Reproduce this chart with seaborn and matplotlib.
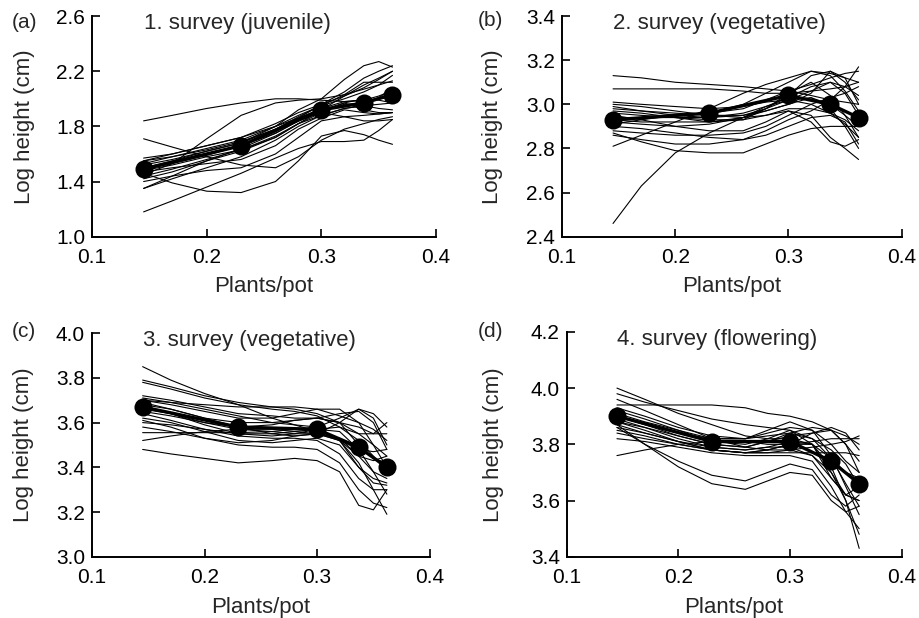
import numpy as np
import pandas as pd
import matplotlib
matplotlib.use('Agg')
import matplotlib.pyplot as plt
import seaborn as sns

# plant density at which heights were read (thin lines)
density = [0.145, 0.17, 0.20, 0.23, 0.26, 0.28, 0.30, 0.32, 0.337, 0.35, 0.362]
# densities of the five treatment means (thick line with dots)
mean_density = [0.145, 0.23, 0.30, 0.337, 0.362]

titles = ['1. survey (juvenile)', '2. survey (vegetative)',
          '3. survey (vegetative)', '4. survey (flowering)']
panel_tags = ['(a)', '(b)', '(c)', '(d)']

mean_a = [1.49, 1.66, 1.92, 1.97, 2.03]
mean_b = [2.93, 2.96, 3.04, 3.00, 2.94]
mean_c = [3.67, 3.58, 3.57, 3.49, 3.40]
mean_d = [3.90, 3.81, 3.81, 3.74, 3.66]

lines_a = [
    [1.84, 1.88, 1.93, 1.97, 2.00, 2.00, 1.99, 1.98, 1.99, 2.00, 2.02],
    [1.71, 1.65, 1.58, 1.52, 1.50, 1.58, 1.70, 1.78, 1.82, 1.85, 1.87],
    [1.18, 1.26, 1.36, 1.46, 1.57, 1.64, 1.69, 1.69, 1.70, 1.77, 1.85],
    [1.46, 1.39, 1.33, 1.32, 1.40, 1.55, 1.73, 1.77, 1.74, 1.70, 1.67],
    [1.45, 1.53, 1.71, 1.88, 1.97, 1.99, 2.00, 2.03, 2.07, 2.10, 2.13],
    [1.50, 1.55, 1.62, 1.68, 1.80, 1.92, 2.00, 2.14, 2.24, 2.27, 2.23],
    [1.35, 1.42, 1.50, 1.58, 1.70, 1.80, 1.88, 1.93, 1.95, 1.96, 1.97],
    [1.35, 1.44, 1.55, 1.64, 1.75, 1.84, 1.90, 1.87, 1.84, 1.84, 1.85],
    [1.48, 1.52, 1.58, 1.63, 1.72, 1.82, 1.92, 2.02, 2.10, 2.15, 2.20],
    [1.52, 1.56, 1.62, 1.68, 1.78, 1.87, 1.95, 2.00, 2.05, 2.10, 2.17],
    [1.55, 1.58, 1.64, 1.70, 1.80, 1.88, 1.95, 2.03, 2.12, 2.12, 2.12],
    [1.42, 1.47, 1.55, 1.62, 1.72, 1.82, 1.90, 1.97, 2.00, 1.99, 1.97],
    [1.57, 1.60, 1.66, 1.72, 1.82, 1.90, 1.96, 2.02, 2.08, 2.14, 2.20],
    [1.47, 1.50, 1.53, 1.56, 1.66, 1.78, 1.86, 1.92, 1.90, 1.89, 1.90],
    [1.40, 1.44, 1.48, 1.50, 1.60, 1.72, 1.84, 1.87, 1.88, 1.89, 1.90],
    [1.53, 1.58, 1.63, 1.69, 1.78, 1.86, 1.93, 1.98, 1.99, 2.02, 2.06],
    [1.50, 1.54, 1.60, 1.66, 1.76, 1.86, 1.96, 2.05, 2.15, 2.20, 2.24],
    [1.44, 1.49, 1.56, 1.63, 1.73, 1.82, 1.88, 1.93, 1.95, 1.93, 1.92],
    [1.55, 1.60, 1.66, 1.72, 1.80, 1.86, 1.92, 1.97, 1.92, 1.90, 1.90],
    [1.49, 1.53, 1.59, 1.66, 1.75, 1.84, 1.91, 1.96, 1.97, 2.01, 2.07],
]

lines_b = [
    [3.13, 3.12, 3.10, 3.09, 3.08, 3.07, 3.06, 3.04, 3.02, 3.01, 3.00],
    [3.07, 3.07, 3.07, 3.07, 3.06, 3.05, 3.05, 3.06, 3.07, 3.08, 3.10],
    [2.87, 2.83, 2.79, 2.78, 2.78, 2.82, 2.86, 2.89, 2.90, 2.90, 2.90],
    [2.46, 2.63, 2.78, 2.87, 2.94, 2.99, 3.02, 3.06, 3.10, 3.08, 3.04],
    [2.81, 2.86, 2.92, 2.98, 3.05, 3.09, 3.12, 3.15, 3.13, 3.06, 2.97],
    [2.93, 2.94, 2.95, 2.96, 3.00, 3.05, 3.10, 3.15, 3.14, 3.12, 3.10],
    [2.97, 2.96, 2.94, 2.92, 2.93, 2.98, 3.05, 3.10, 3.04, 2.95, 2.85],
    [2.95, 2.93, 2.90, 2.88, 2.88, 2.92, 2.97, 2.95, 2.85, 2.80, 2.75],
    [3.00, 2.99, 2.97, 2.95, 2.94, 2.95, 2.97, 2.92, 2.83, 2.81, 2.84],
    [2.99, 2.97, 2.95, 2.94, 2.95, 2.98, 3.02, 3.03, 3.00, 2.95, 2.90],
    [2.86, 2.84, 2.82, 2.82, 2.84, 2.88, 2.93, 2.97, 3.02, 3.08, 3.17],
    [2.90, 2.89, 2.87, 2.85, 2.84, 2.86, 2.90, 2.94, 2.95, 2.92, 2.82],
    [2.91, 2.93, 2.95, 2.96, 2.98, 3.02, 3.06, 3.09, 3.12, 3.14, 3.15],
    [2.98, 2.97, 2.96, 2.95, 2.95, 2.97, 3.00, 3.05, 3.15, 3.12, 3.00],
    [2.94, 2.94, 2.94, 2.94, 2.96, 2.99, 3.03, 3.08, 3.10, 3.05, 2.95],
    [2.96, 2.95, 2.94, 2.93, 2.93, 2.95, 2.98, 2.98, 2.96, 2.93, 2.88],
    [2.92, 2.91, 2.90, 2.91, 2.94, 2.98, 3.04, 3.13, 3.15, 3.10, 3.02],
    [2.88, 2.87, 2.86, 2.86, 2.87, 2.90, 2.95, 3.00, 3.03, 3.05, 3.08],
    [3.01, 3.00, 2.99, 2.98, 2.99, 3.01, 3.02, 3.00, 2.96, 2.91, 2.85],
    [2.93, 2.92, 2.92, 2.92, 2.94, 2.97, 3.00, 3.03, 2.98, 2.90, 2.80],
]

lines_c = [
    [3.85, 3.79, 3.73, 3.68, 3.62, 3.59, 3.56, 3.52, 3.42, 3.30, 3.19],
    [3.79, 3.76, 3.72, 3.69, 3.67, 3.66, 3.64, 3.60, 3.55, 3.50, 3.45],
    [3.78, 3.75, 3.71, 3.68, 3.66, 3.65, 3.63, 3.58, 3.52, 3.45, 3.38],
    [3.48, 3.46, 3.44, 3.42, 3.43, 3.44, 3.43, 3.38, 3.23, 3.21, 3.30],
    [3.71, 3.69, 3.66, 3.63, 3.60, 3.59, 3.58, 3.52, 3.40, 3.33, 3.32],
    [3.70, 3.69, 3.68, 3.67, 3.67, 3.67, 3.66, 3.63, 3.60, 3.57, 3.52],
    [3.68, 3.66, 3.62, 3.58, 3.55, 3.54, 3.55, 3.60, 3.66, 3.64, 3.58],
    [3.66, 3.64, 3.60, 3.57, 3.56, 3.55, 3.55, 3.52, 3.45, 3.38, 3.35],
    [3.62, 3.60, 3.56, 3.52, 3.51, 3.52, 3.53, 3.50, 3.40, 3.35, 3.33],
    [3.61, 3.58, 3.53, 3.50, 3.49, 3.49, 3.48, 3.42, 3.30, 3.24, 3.22],
    [3.555, 3.555, 3.555, 3.555, 3.56, 3.57, 3.58, 3.62, 3.66, 3.62, 3.50],
    [3.52, 3.54, 3.56, 3.57, 3.57, 3.56, 3.55, 3.52, 3.48, 3.47, 3.48],
    [3.70, 3.68, 3.65, 3.62, 3.62, 3.64, 3.66, 3.66, 3.60, 3.50, 3.40],
    [3.65, 3.63, 3.60, 3.58, 3.59, 3.61, 3.62, 3.60, 3.50, 3.44, 3.42],
    [3.64, 3.61, 3.57, 3.54, 3.53, 3.53, 3.52, 3.46, 3.35, 3.30, 3.30],
    [3.69, 3.66, 3.62, 3.60, 3.60, 3.61, 3.62, 3.64, 3.65, 3.60, 3.48],
    [3.67, 3.64, 3.59, 3.55, 3.54, 3.55, 3.57, 3.56, 3.48, 3.38, 3.28],
    [3.60, 3.59, 3.57, 3.55, 3.55, 3.56, 3.57, 3.58, 3.55, 3.55, 3.60],
    [3.58, 3.56, 3.53, 3.51, 3.52, 3.54, 3.55, 3.53, 3.45, 3.43, 3.45],
    [3.72, 3.70, 3.67, 3.64, 3.63, 3.62, 3.62, 3.60, 3.58, 3.55, 3.55],
]

lines_d = [
    [4.00, 3.96, 3.91, 3.87, 3.83, 3.82, 3.82, 3.80, 3.72, 3.60, 3.48],
    [3.98, 3.95, 3.92, 3.89, 3.87, 3.86, 3.85, 3.82, 3.75, 3.66, 3.58],
    [3.94, 3.94, 3.94, 3.94, 3.93, 3.91, 3.90, 3.88, 3.85, 3.80, 3.74],
    [3.76, 3.78, 3.80, 3.81, 3.81, 3.80, 3.80, 3.81, 3.82, 3.82, 3.82],
    [3.87, 3.80, 3.72, 3.66, 3.64, 3.67, 3.70, 3.69, 3.60, 3.56, 3.58],
    [3.86, 3.80, 3.74, 3.69, 3.67, 3.70, 3.73, 3.71, 3.62, 3.58, 3.62],
    [3.91, 3.88, 3.85, 3.82, 3.82, 3.85, 3.88, 3.85, 3.76, 3.65, 3.55],
    [3.88, 3.86, 3.83, 3.80, 3.79, 3.81, 3.84, 3.86, 3.85, 3.80, 3.70],
    [3.85, 3.83, 3.80, 3.78, 3.77, 3.77, 3.77, 3.77, 3.77, 3.77, 3.76],
    [3.96, 3.92, 3.87, 3.82, 3.79, 3.78, 3.78, 3.76, 3.70, 3.60, 3.43],
    [3.90, 3.87, 3.83, 3.80, 3.79, 3.81, 3.83, 3.84, 3.86, 3.84, 3.78],
    [3.89, 3.86, 3.82, 3.79, 3.78, 3.79, 3.81, 3.80, 3.70, 3.62, 3.60],
    [3.84, 3.82, 3.80, 3.78, 3.77, 3.78, 3.80, 3.84, 3.85, 3.83, 3.80],
    [3.92, 3.89, 3.85, 3.81, 3.80, 3.82, 3.85, 3.80, 3.68, 3.62, 3.65],
    [3.87, 3.84, 3.81, 3.78, 3.77, 3.77, 3.78, 3.79, 3.80, 3.81, 3.83],
    [3.82, 3.81, 3.79, 3.77, 3.76, 3.76, 3.76, 3.74, 3.65, 3.56, 3.50],
    [3.90, 3.87, 3.84, 3.82, 3.82, 3.84, 3.86, 3.85, 3.80, 3.74, 3.70],
    [3.93, 3.90, 3.86, 3.83, 3.82, 3.83, 3.84, 3.82, 3.78, 3.73, 3.65],
    [3.86, 3.84, 3.81, 3.79, 3.78, 3.79, 3.79, 3.76, 3.68, 3.62, 3.60],
    [3.88, 3.85, 3.81, 3.78, 3.77, 3.78, 3.80, 3.80, 3.75, 3.70, 3.68],
]

y_ticks = [
    [1.0, 1.4, 1.8, 2.2, 2.6],
    [2.4, 2.6, 2.8, 3.0, 3.2, 3.4],
    [3.0, 3.2, 3.4, 3.6, 3.8, 4.0],
    [3.4, 3.6, 3.8, 4.0, 4.2],
]
x_ticks = [0.1, 0.2, 0.3, 0.4]

all_lines = [lines_a, lines_b, lines_c, lines_d]
all_means = [mean_a, mean_b, mean_c, mean_d]

sns.set_style('ticks')
plt.rcParams['font.family'] = ['Liberation Sans', 'DejaVu Sans']

fig = plt.figure(figsize=(9.2, 6.18), dpi=100)

# axes rectangles in figure fractions
rects = [
    [0.100, 0.617, 0.374, 0.357],
    [0.611, 0.617, 0.369, 0.357],
    [0.100, 0.099, 0.367, 0.362],
    [0.616, 0.099, 0.364, 0.364],
]
ylab_x = [-0.195, -0.206, -0.204, -0.22]
tag_pos = [(12, 22), (478, 20), (12, 332), (478, 332)]

for i in range(4):
    ax = fig.add_axes(rects[i])
    rows = []
    for j, vals in enumerate(all_lines[i]):
        for x, v in zip(density, vals):
            rows.append({'density': x, 'height': v, 'plant': j})
    df = pd.DataFrame(rows)
    sns.lineplot(data=df, x='density', y='height', units='plant', estimator=None,
                 color='black', linewidth=0.8, ax=ax, legend=False)
    df_mean = pd.DataFrame({'density': mean_density, 'height': all_means[i]})
    sns.lineplot(data=df_mean, x='density', y='height', color='black', linewidth=2.4,
                 marker='o', markersize=13, markeredgewidth=0, ax=ax, zorder=5)

    ax.set_xlim(0.1, 0.4)
    ax.set_ylim(y_ticks[i][0], y_ticks[i][-1])
    ax.set_xticks(x_ticks)
    ax.set_yticks(y_ticks[i])
    ax.set_xticklabels([f'{t:.1f}' for t in x_ticks])
    ax.set_yticklabels([f'{t:.1f}' for t in y_ticks[i]])
    ax.tick_params(direction='in', length=6, width=1.2, labelsize=15, colors='black')
    ax.tick_params(axis='x', pad=8)
    ax.tick_params(axis='y', pad=5)
    for s in ['top', 'right']:
        ax.spines[s].set_visible(False)
    for s in ['left', 'bottom']:
        ax.spines[s].set_linewidth(1.4)
        ax.spines[s].set_color('black')

    ax.set_xlabel('Plants/pot', fontsize=16)
    ax.set_ylabel('Log height (cm)', fontsize=16)
    ax.xaxis.set_label_coords(0.5, -0.225)
    ax.xaxis.label.set_va('center')
    ax.yaxis.set_label_coords(ylab_x[i], 0.5)
    ax.yaxis.label.set_va('center')

    ax.text(0.15, 0.965, titles[i], transform=ax.transAxes, fontsize=16,
            ha='left', va='center')
    fig.text(tag_pos[i][0] / 920, 1 - tag_pos[i][1] / 618, panel_tags[i],
             fontsize=15, ha='left', va='center')

fig.savefig('out.png', dpi=100)
